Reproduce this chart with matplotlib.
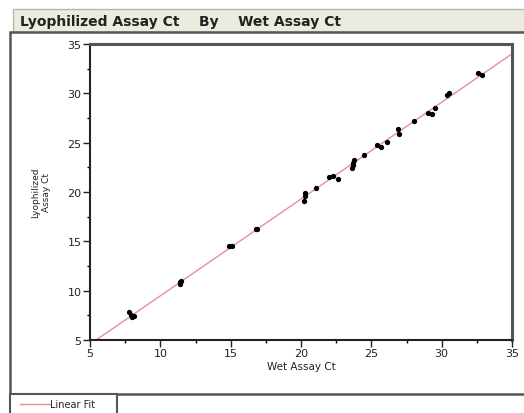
import numpy as np
import matplotlib.pyplot as plt
from matplotlib.patches import Rectangle

# Wet vs lyophilized Ct
wet = [7.8, 7.9, 8.0, 8.1, 11.4, 11.5, 11.4, 14.9, 15.1, 16.8, 16.9,
       20.2, 20.3, 20.3, 21.1, 22.0, 22.3, 22.6, 23.6, 23.7, 23.7, 23.8,
       24.5, 25.4, 25.7, 26.1, 26.9, 27.0, 28.0, 29.0, 29.3, 29.5,
       30.4, 30.5, 32.6, 32.9]
lyo = [7.8, 7.5, 7.3, 7.4, 10.7, 11.0, 10.9, 14.5, 14.5, 16.3, 16.2,
       19.1, 19.6, 19.9, 20.4, 21.5, 21.6, 21.3, 22.4, 22.9, 22.7, 23.2,
       23.7, 24.8, 24.6, 25.1, 26.4, 25.9, 27.2, 28.0, 27.9, 28.5,
       29.8, 30.0, 32.1, 31.9]

title = "Lyophilized Assay Ct    By    Wet Assay Ct"
xlabel = "Wet Assay Ct"
ylabel = "Lyophilized\nAssay Ct"
ticks = [5, 10, 15, 20, 25, 30, 35]

W, H = 524, 414
fig = plt.figure(figsize=(W / 100, H / 100), dpi=100)
fig.patch.set_facecolor("white")

def fx(px):
    return px / W

def fy(py):
    return 1 - py / H

def box(x0, y0, x1, y1, fc, ec, lw):
    # rectangle in pixel coords (top-left origin), drawn under the axes
    r = Rectangle((fx(x0), fy(y1)), fx(x1) - fx(x0), fy(y0) - fy(y1),
                  transform=fig.transFigure, facecolor=fc, edgecolor=ec,
                  lw=lw, zorder=-10)
    fig.patches.append(r)

box(13, 10, W + 5, 33, "#ecebdf", "#b8b6a8", 1)
box(10, 33, W + 10, 395, "white", "#555555", 1.8)
box(10, 395, 117, 416, "white", "#555555", 1.5)

fig.text(fx(20), fy(22), title, fontsize=10, fontweight="bold",
         va="center", ha="left", color="#222222")
fig.lines.append(plt.Line2D([fx(20), fx(50)], [fy(405), fy(405)],
                            transform=fig.transFigure, color="#e58f9c", lw=1))
fig.text(fx(50), fy(405), "Linear Fit", fontsize=7, va="center", ha="left",
         color="#222222")

ax = fig.add_axes([fx(90), fy(341), fx(512) - fx(90), fy(45) - fy(341)])
ax.set_xlim(5, 35)
ax.set_ylim(5, 35)
ax.set_xticks(ticks)
ax.set_yticks(ticks)
ax.set_xticks(np.arange(7.5, 35, 5), minor=True)
ax.set_yticks(np.arange(7.5, 35, 5), minor=True)
ax.tick_params(which="major", direction="out", length=5, width=1, labelsize=8,
               colors="#222222", pad=1)
ax.tick_params(which="minor", direction="out", length=2.5, width=1)

ax.spines["left"].set_color("#222222")
ax.spines["bottom"].set_color("#222222")
ax.spines["left"].set_linewidth(1.5)
ax.spines["bottom"].set_linewidth(1.5)
ax.spines["right"].set_color("#555555")
ax.spines["top"].set_color("#555555")
ax.spines["right"].set_linewidth(2.2)
ax.spines["top"].set_linewidth(2.2)

slope, icpt = np.polyfit(wet, lyo, 1)
xs = np.array([5, 35])
ax.plot(xs, slope * xs + icpt, color="#e58f9c", lw=1, zorder=1)
ax.plot(wet, lyo, "o", color="black", ms=2.8, zorder=2)

ax.set_xlabel(xlabel, fontsize=7.5, labelpad=2, color="#222222")
ax.set_ylabel(ylabel, fontsize=6.5, labelpad=12, color="#222222")

fig.savefig("out.png", dpi=100)
